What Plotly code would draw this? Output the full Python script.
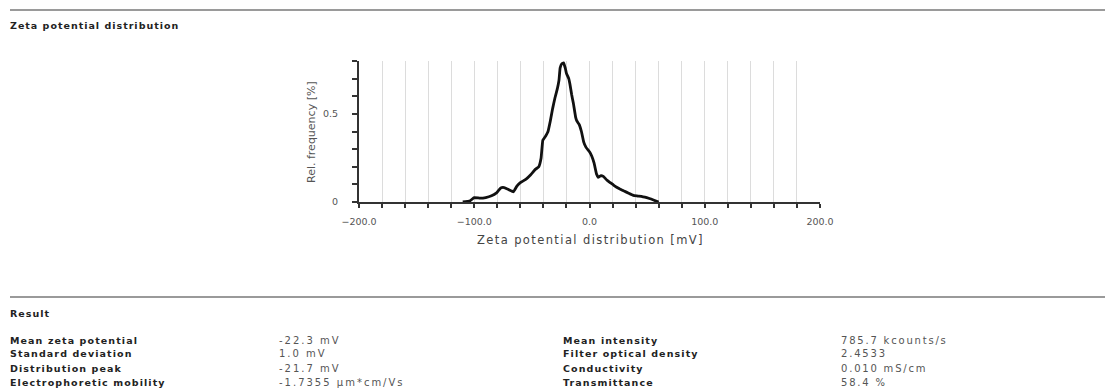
import plotly.graph_objects as go

# ---- data ----
zeta_mv = [-110, -104, -100, -95, -90, -85, -81, -77, -74, -70, -66, -63, -60, -55, -51,
           -47, -44, -42, -40.5, -38, -36, -34, -32, -30, -28, -26.5, -25.5, -24, -22.5,
           -21, -20, -18, -17, -15.5, -14, -12, -11, -9, -7, -5, -3, 0, 2, 4, 6, 7.5,
           10, 12, 15, 18, 22, 26, 30, 34, 38, 42, 48, 52, 56, 60]
rel_freq = [0.0, 0.005, 0.025, 0.022, 0.025, 0.035, 0.05, 0.08, 0.082, 0.07, 0.058, 0.09,
            0.11, 0.13, 0.155, 0.185, 0.2, 0.25, 0.35, 0.375, 0.40, 0.46, 0.53, 0.59, 0.64,
            0.69, 0.76, 0.785, 0.79, 0.76, 0.73, 0.70, 0.67, 0.61, 0.56, 0.48, 0.46, 0.44,
            0.40, 0.34, 0.31, 0.285, 0.26, 0.22, 0.16, 0.14, 0.15, 0.145, 0.125, 0.11, 0.09,
            0.075, 0.062, 0.05, 0.038, 0.034, 0.028, 0.02, 0.01, 0.0]

x_tick_vals = [-200, -100, 0, 100, 200]
x_tick_text = ["\u2212200.0", "\u2212100.0", "0.0", "100.0", "200.0"]
y_tick_vals = [0, 0.5]
y_tick_text = ["0", "0.5"]

header_title = "Zeta potential distribution"
x_title = "Zeta potential distribution [mV]"
y_title = "Rel. frequency [%]"
result_title = "Result"
left_labels = ["Mean zeta potential", "Standard deviation", "Distribution peak", "Electrophoretic mobility"]
left_values = ["-22.3 mV", "1.0 mV", "-21.7 mV", "-1.7355 \u00b5m*cm/Vs"]
right_labels = ["Mean intensity", "Filter optical density", "Conductivity", "Transmittance"]
right_values = ["785.7 kcounts/s", "2.4533", "0.010 mS/cm", "58.4 %"]

# ---- layout geometry (page pixels; page body has an 8px margin) ----
OFF = 8
W, H = 1113 - OFF, 392 - OFF
L, R, T, B = 359 - OFF, 820 - OFF, 61 - OFF, 202 - OFF


def px(x):
    return (x - OFF - L) / (R - L)


def py(y):
    return (B - (y - OFF)) / (B - T)


def ls(text, spacing):
    return f'<span style="letter-spacing:{spacing}px">{text}</span>'


FONT = "DejaVu Sans"

fig = go.Figure()
fig.add_trace(go.Scatter(x=zeta_mv, y=rel_freq, mode="lines",
                         line=dict(color="#111111", width=2.8, shape="spline", smoothing=0.25),
                         hoverinfo="skip", showlegend=False))

fig.update_layout(
    width=W, height=H,
    margin=dict(l=L, r=W - R, t=T, b=H - B),
    paper_bgcolor="white", plot_bgcolor="white",
    showlegend=False,
    font=dict(family=FONT, color="#333"),
)

fig.update_xaxes(
    range=[-200, 200], showline=True, linecolor="#333", linewidth=2,
    tickmode="array", tickvals=x_tick_vals, ticktext=x_tick_text,
    ticks="outside", ticklen=4, tickcolor="#333", tickwidth=1.5,
    tickfont=dict(family=FONT, size=9.5, color="#555"),
    ticklabelstandoff=6,
    showgrid=True, gridcolor="#dcdcdc", gridwidth=1,
    minor=dict(dtick=20, tick0=0, ticks="outside", ticklen=4, tickcolor="#333", tickwidth=1.5,
               showgrid=True, gridcolor="#dcdcdc", gridwidth=1),
    zeroline=False, fixedrange=True,
)
fig.update_yaxes(
    range=[0, 0.8], showline=True, linecolor="#333", linewidth=2,
    tickmode="array", tickvals=y_tick_vals, ticktext=y_tick_text,
    ticks="outside", ticklen=5, tickcolor="#333", tickwidth=1.5,
    tickfont=dict(family=FONT, size=9.5, color="#555"),
    ticklabelstandoff=12,
    showgrid=False,
    minor=dict(dtick=0.1, tick0=0, ticks="outside", ticklen=5, tickcolor="#333", tickwidth=1.5,
               showgrid=False),
    zeroline=False, fixedrange=True,
)

annotations = []
# axis titles
annotations.append(dict(text=ls(x_title, 1.4), x=px(590), y=py(240), xref="paper", yref="paper",
                        xanchor="center", yanchor="middle", showarrow=False,
                        font=dict(family=FONT, size=11.5, color="#444")))
annotations.append(dict(text=y_title, x=px(311), y=py(132), xref="paper", yref="paper",
                        xanchor="center", yanchor="middle", showarrow=False, textangle=-90,
                        font=dict(family=FONT, size=11, color="#555")))
# header and section titles
annotations.append(dict(text="<b>" + ls(header_title, 1.0) + "</b>", x=px(8), y=py(25),
                        xref="paper", yref="paper", xanchor="left", yanchor="middle",
                        showarrow=False, font=dict(family=FONT, size=9.5, color="#222")))
annotations.append(dict(text="<b>" + ls(result_title, 1.0) + "</b>", x=px(8), y=py(313),
                        xref="paper", yref="paper", xanchor="left", yanchor="middle",
                        showarrow=False, font=dict(family=FONT, size=9.5, color="#222")))

row_y = [340, 354, 368, 382]
for i, yy in enumerate(row_y):
    annotations.append(dict(text="<b>" + ls(left_labels[i], 1.1) + "</b>", x=px(8), y=py(yy),
                            xref="paper", yref="paper", xanchor="left", yanchor="middle",
                            showarrow=False, font=dict(family=FONT, size=9.5, color="#222")))
    annotations.append(dict(text=ls(left_values[i], 2.0), x=px(277), y=py(yy),
                            xref="paper", yref="paper", xanchor="left", yanchor="middle",
                            showarrow=False, font=dict(family=FONT, size=10, color="#555")))
    annotations.append(dict(text="<b>" + ls(right_labels[i], 1.1) + "</b>", x=px(561), y=py(yy),
                            xref="paper", yref="paper", xanchor="left", yanchor="middle",
                            showarrow=False, font=dict(family=FONT, size=9.5, color="#222")))
    annotations.append(dict(text=ls(right_values[i], 1.8), x=px(839), y=py(yy),
                            xref="paper", yref="paper", xanchor="left", yanchor="middle",
                            showarrow=False, font=dict(family=FONT, size=10, color="#555")))

fig.update_layout(annotations=annotations)

# horizontal rules
for yy in [10, 297]:
    fig.add_shape(type="line", xref="paper", yref="paper", x0=px(10), x1=px(1113), y0=py(yy), y1=py(yy),
                  line=dict(color="#9a9a9a", width=2))

fig.write_html("out.html", config={"displayModeBar": False})
